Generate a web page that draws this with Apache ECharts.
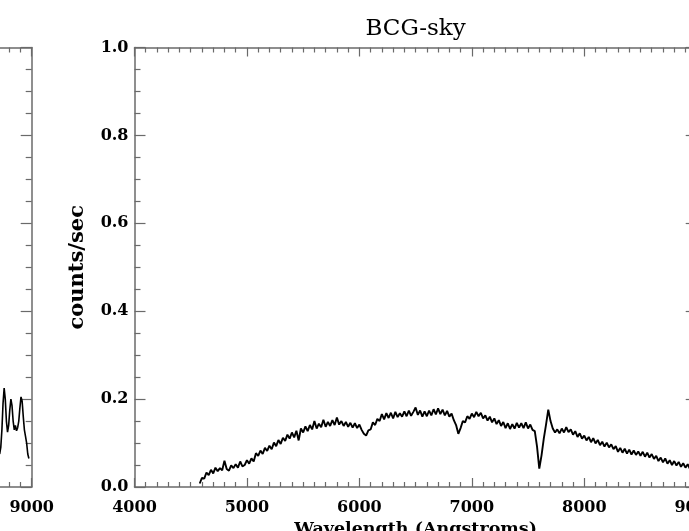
<!DOCTYPE html>
<html><head><meta charset="utf-8">
<script src="https://cdn.jsdelivr.net/npm/echarts@6/dist/echarts.min.js"></script>
<style>html,body{margin:0;padding:0;background:#fff}#c{width:689px;height:531px}</style>
</head><body><div id="c"></div>
<script>
// ---- data ----
const wavelength = [
4580,4600,4620,4640,4660,4680,4700,4720,4740,4760,
4780,4800,4820,4840,4860,4880,4900,4920,4940,4960,
4980,5000,5020,5040,5060,5080,5100,5120,5140,5160,
5180,5200,5220,5240,5260,5280,5300,5320,5340,5360,
5380,5400,5420,5440,5460,5480,5500,5520,5540,5560,
5580,5600,5620,5640,5660,5680,5700,5720,5740,5760,
5780,5800,5820,5840,5860,5880,5900,5920,5940,5960,
5980,6000,6020,6040,6060,6080,6100,6120,6140,6160,
6180,6200,6220,6240,6260,6280,6300,6320,6340,6360,
6380,6400,6420,6440,6460,6480,6500,6520,6540,6560,
6580,6600,6620,6640,6660,6680,6700,6720,6740,6760,
6780,6800,6820,6840,6860,6880,6900,6920,6940,6960,
6980,7000,7020,7040,7060,7080,7100,7120,7140,7160,
7180,7200,7220,7240,7260,7280,7300,7320,7340,7360,
7380,7400,7420,7440,7460,7480,7500,7520,7540,7560,
7580,7600,7620,7640,7660,7680,7700,7720,7740,7760,
7780,7800,7820,7840,7860,7880,7900,7920,7940,7960,
7980,8000,8020,8040,8060,8080,8100,8120,8140,8160,
8180,8200,8220,8240,8260,8280,8300,8320,8340,8360,
8380,8400,8420,8440,8460,8480,8500,8520,8540,8560,
8580,8600,8620,8640,8660,8680,8700,8720,8740,8760,
8780,8800,8820,8840,8860,8880,8900,8920,8940,8960,
8980];
const counts = [
0.008,0.021,0.019,0.033,0.027,0.039,0.031,0.044,0.036,0.043,
0.038,0.060,0.041,0.037,0.049,0.043,0.052,0.044,0.058,0.047,
0.050,0.061,0.053,0.065,0.058,0.077,0.071,0.083,0.075,0.089,
0.082,0.094,0.086,0.101,0.093,0.107,0.098,0.112,0.105,0.119,
0.110,0.124,0.113,0.128,0.106,0.133,0.124,0.138,0.127,0.141,
0.131,0.150,0.133,0.144,0.136,0.153,0.137,0.148,0.139,0.152,
0.141,0.158,0.142,0.150,0.139,0.148,0.137,0.146,0.135,0.145,
0.134,0.142,0.130,0.121,0.117,0.129,0.131,0.147,0.141,0.155,
0.150,0.166,0.154,0.168,0.157,0.169,0.156,0.171,0.159,0.168,
0.160,0.172,0.161,0.174,0.162,0.171,0.181,0.164,0.174,0.160,
0.172,0.161,0.174,0.163,0.177,0.165,0.179,0.166,0.176,0.163,
0.173,0.160,0.167,0.152,0.141,0.121,0.134,0.150,0.147,0.161,
0.155,0.167,0.159,0.171,0.161,0.169,0.156,0.163,0.151,0.160,
0.147,0.156,0.143,0.152,0.139,0.148,0.134,0.145,0.132,0.143,
0.133,0.146,0.135,0.145,0.134,0.147,0.133,0.142,0.130,0.127,
0.092,0.042,0.072,0.110,0.142,0.176,0.150,0.133,0.124,0.131,
0.122,0.133,0.124,0.136,0.125,0.131,0.119,0.127,0.114,0.122,
0.110,0.117,0.106,0.114,0.102,0.111,0.099,0.107,0.095,0.103,
0.092,0.101,0.090,0.097,0.086,0.093,0.080,0.089,0.078,0.087,
0.076,0.085,0.074,0.083,0.073,0.081,0.071,0.080,0.069,0.078,
0.067,0.075,0.064,0.071,0.059,0.067,0.056,0.065,0.053,0.061,
0.050,0.059,0.049,0.057,0.046,0.054,0.044,0.052,0.041,0.049,
0.045];
// partially visible neighbouring panel (left)
const leftWavelength = [8715,8725,8735,8745,8755,8765,8775,8785,8795,8805,8815,8825,8835,8845,8855,8865,8875,8885,8895,8905,8915,8925,8935,8945,8955,8965,8975];
const leftCounts = [0.075,0.090,0.130,0.190,0.225,0.200,0.150,0.125,0.140,0.175,0.200,0.185,0.150,0.130,0.140,0.128,0.135,0.150,0.180,0.205,0.195,0.160,0.130,0.115,0.100,0.075,0.065];

const xMin = 4000, xMax = 9000, xStep = 1000;
const yMin = 0, yMax = 1, yStep = 0.2;
const titleText = 'BCG-sky';
const xTitle = 'Wavelength (Angstroms)';
const yTitle = 'counts/sec';

// ---- chart ----
const chart = echarts.init(document.getElementById('c'), null, {renderer: 'canvas'});
const axisColor = '#6a6a6a';
const font = 'DejaVu Serif';
const plotTop = 47.5, plotH = 439.5, plotW = 562.2;

function xAx(gridIndex, position, showLabel, name) {
  return {
    type: 'value', gridIndex, position, min: xMin, max: xMax, interval: xStep,
    axisLine: {show: true, onZero: false, lineStyle: {color: axisColor, width: 1.5}},
    axisTick: {show: true, inside: true, length: 9, lineStyle: {color: axisColor, width: 1.2}},
    minorTick: {show: true, splitNumber: 10, length: 5, lineStyle: {color: axisColor, width: 1.2}},
    splitLine: {show: false}, minorSplitLine: {show: false},
    axisLabel: {show: showLabel, color: '#000', fontFamily: font, fontWeight: 'bold', fontSize: 16, margin: 13,
      formatter: v => String(Math.round(v))},
    name: name || '', nameLocation: 'middle', nameGap: 33,
    nameTextStyle: {color: '#000', fontFamily: font, fontWeight: 'bold', fontSize: 17.5}
  };
}
function yAx(gridIndex, position, showLabel, name) {
  return {
    type: 'value', gridIndex, position, min: yMin, max: yMax, interval: yStep,
    axisLine: {show: true, onZero: false, lineStyle: {color: axisColor, width: 1.5}},
    axisTick: {show: true, inside: true, length: 11, lineStyle: {color: axisColor, width: 1.2}},
    minorTick: {show: true, splitNumber: 4, length: 6, lineStyle: {color: axisColor, width: 1.2}},
    splitLine: {show: false}, minorSplitLine: {show: false},
    axisLabel: {show: showLabel, color: '#000', fontFamily: font, fontWeight: 'bold', fontSize: 16, margin: 6,
      formatter: v => v.toFixed(1)},
    name: name || '', nameLocation: 'middle', nameGap: 46, nameRotate: 90,
    nameTextStyle: {color: '#000', fontFamily: font, fontWeight: 'bold', fontSize: 21}
  };
}

chart.setOption({
  animation: false,
  backgroundColor: '#fff',
  grid: [
    {left: 134.5, top: plotTop, width: plotW, height: plotH, containLabel: false, outerBoundsMode: 'none'},
    {left: 31.7 - plotW, top: plotTop, width: plotW, height: plotH, containLabel: false, outerBoundsMode: 'none'}
  ],
  xAxis: [xAx(0, 'bottom', true, xTitle), xAx(0, 'top', false), xAx(1, 'bottom', true), xAx(1, 'top', false)],
  yAxis: [yAx(0, 'left', true, yTitle), yAx(0, 'right', false), yAx(1, 'left', true), yAx(1, 'right', false)],
  graphic: [{
    type: 'text', x: 134.5 + plotW / 2, y: 29,
    style: {text: titleText, fill: '#000', font: 'normal 23px "DejaVu Serif"', textAlign: 'center', textVerticalAlign: 'middle'}
  }],
  series: [
    {type: 'line', xAxisIndex: 0, yAxisIndex: 0, showSymbol: false, symbol: 'none',
     lineStyle: {color: '#000', width: 1.9}, data: wavelength.map((w, i) => [w, counts[i]])},
    {type: 'line', xAxisIndex: 2, yAxisIndex: 2, showSymbol: false, symbol: 'none',
     lineStyle: {color: '#000', width: 1.6}, data: leftWavelength.map((w, i) => [w, leftCounts[i]])}
  ]
});
</script></body></html>
